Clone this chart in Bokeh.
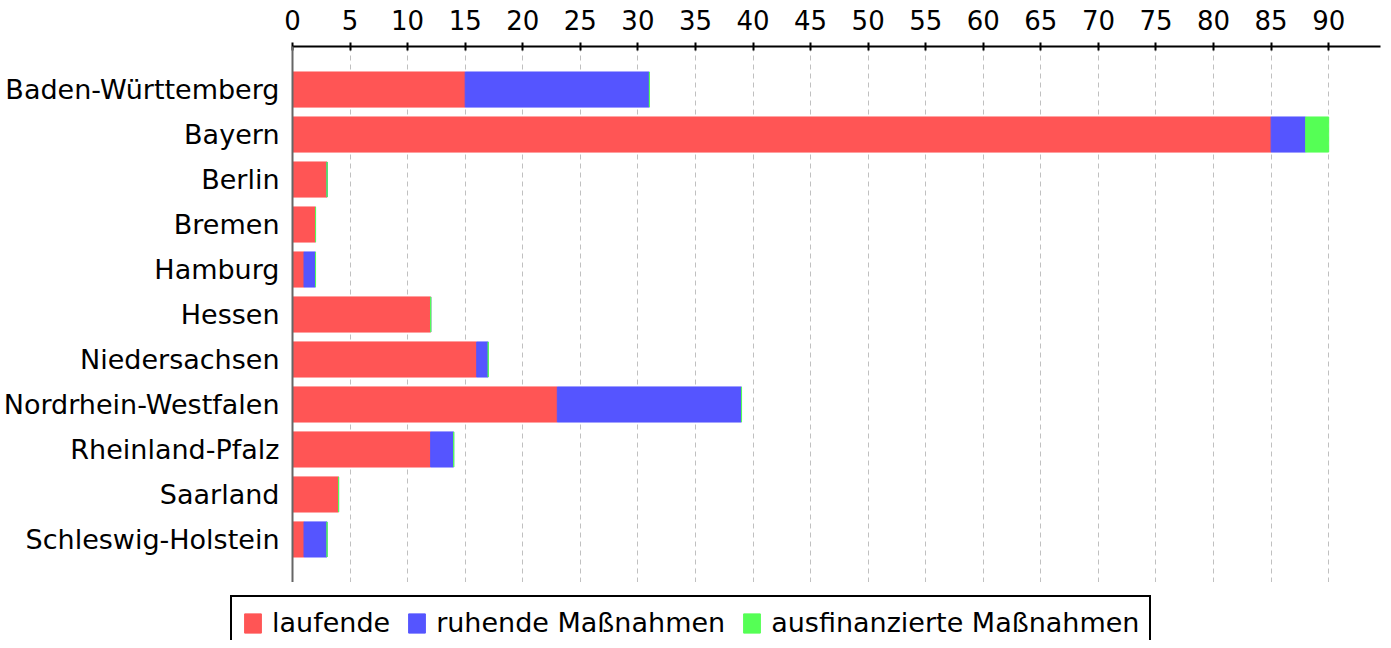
from bokeh.plotting import figure
from bokeh.layouts import column
from bokeh.models import FactorRange, Range1d, FixedTicker, Legend, LegendItem, ColumnDataSource
from bokeh.embed import file_html
from bokeh.resources import INLINE

states = ["Baden-Württemberg", "Bayern", "Berlin", "Bremen", "Hamburg", "Hessen",
          "Niedersachsen", "Nordrhein-Westfalen", "Rheinland-Pfalz", "Saarland",
          "Schleswig-Holstein"]
laufende = [15, 85, 3, 2, 1, 12, 16, 23, 12, 4, 1]
ruhende = [16, 3, 0, 0, 1, 0, 1, 16, 2, 0, 2]
ausfinanziert = [0, 2, 0, 0, 0, 0, 0, 0, 0, 0, 0]
series = ["laufende", "ruhende Maßnahmen", "ausfinanzierte Maßnahmen"]
colors = ["#FF5555", "#5555FF", "#55FF55"]
x_ticks = list(range(0, 95, 5))

src = ColumnDataSource(dict(state=states, laufende=laufende, ruhende=ruhende,
                            aus=ausfinanziert))

FONT = "DejaVu Sans"

p = figure(frame_width=1088, frame_height=536, output_backend="svg", toolbar_location=None,
           y_range=FactorRange(*list(reversed(states)), range_padding=0.083),
           x_range=Range1d(0, 94.5), x_axis_location="above",
           min_border_left=285, min_border_right=2, min_border_top=46, min_border_bottom=0)

renderers = p.hbar_stack(["laufende", "ruhende", "aus"], y="state", height=0.78,
                         color=colors, line_width=1, source=src)

p.outline_line_color = None
p.background_fill_color = "white"

xa = p.xaxis[0]
xa.ticker = FixedTicker(ticks=x_ticks)
xa.major_label_text_font = FONT
xa.major_label_text_font_size = "26px"
xa.major_label_text_color = "black"
xa.axis_line_color = "black"
xa.axis_line_width = 2
xa.major_tick_line_color = "black"
xa.major_tick_line_width = 2
xa.major_tick_in = 4
xa.major_tick_out = 4
xa.minor_tick_line_color = None
xa.major_label_standoff = 13

ya = p.yaxis[0]
ya.major_label_text_font = FONT
ya.major_label_text_font_size = "27px"
ya.major_label_text_color = "black"
ya.axis_line_color = "#666666"
ya.axis_line_width = 2
ya.major_tick_line_color = None
ya.minor_tick_line_color = None
ya.major_label_standoff = 7

p.xgrid.grid_line_color = "#c0c0c0"
p.xgrid.grid_line_dash = "5 4"
p.xgrid.grid_line_width = 1
p.ygrid.grid_line_color = None

# legend figure below the chart
lg = figure(width=1375, height=58, output_backend="svg", toolbar_location=None,
            x_range=Range1d(0, 1), y_range=Range1d(0, 1),
            x_axis_type=None, y_axis_type=None, min_border=0)
lg.outline_line_color = None
lg.frame_align = False
nan = float("nan")
key_src = ColumnDataSource(dict(y=[nan], l=[nan], r=[nan]))
key_renderers = [lg.hbar(y="y", left="l", right="r", height=1, color=c, source=key_src)
                 for c in colors]
items = [LegendItem(label=s, renderers=[r]) for s, r in zip(series, key_renderers)]
legend = Legend(items=items, orientation="horizontal", location=(230, -10),
                label_text_font=FONT, label_text_font_size="27px",
                label_text_color="black",
                border_line_color="black", border_line_width=2, border_line_alpha=1,
                glyph_width=21, glyph_height=24, spacing=16, padding=10,
                margin=0, label_standoff=9)
lg.add_layout(legend, "center")

layout = column(p, lg, spacing=0)
open("out.html", "w").write(file_html(layout, INLINE))
